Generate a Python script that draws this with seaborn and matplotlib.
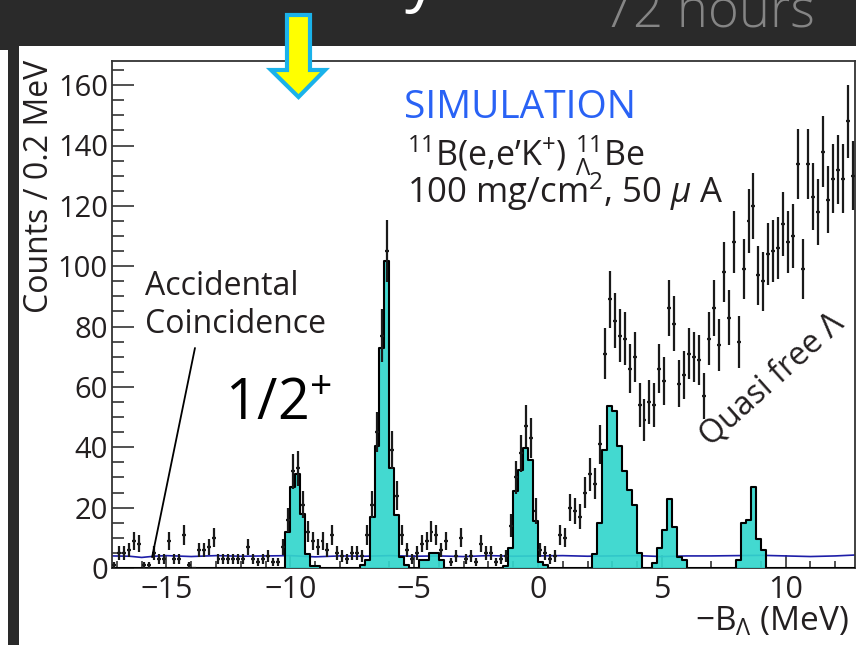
import numpy as np
import pandas as pd
import matplotlib
matplotlib.use("Agg")
import matplotlib.pyplot as plt
import seaborn as sns
from matplotlib.patches import Rectangle, Polygon
from matplotlib.ticker import MultipleLocator

# ---------------- data ----------------
x_range = (-17.2, 12.8)          # MeV, axis range
bin_width = 0.2                  # MeV per bin
n_bins = 150

# measured spectrum (counts per 0.2 MeV), bins from -17.1 to 12.7 (centers)
data_left = [1, 5, 5, 6, 9, 8, 1, 1, 5, 3, 3, 9, 3, 3, 11, 1, 0, 6, 6, 7,
             10, 3, 3, 3, 3, 3, 3, 7, 3, 2, 3, 4, 2, 2, 7]
data_peak1 = [16, 32, 33, 21, 12, 9, 7, 9, 6, 11, 5, 4, 3, 5, 5]
data_peak2 = [4, 11, 21, 45, 77, 105]
data_mid = [39, 24, 11, 6, 3, 5, 8, 9, 12, 11, 6, 9, 2, 4, 10, 3, 4, 2, 8, 5,
            5, 2, 3, 4]
data_peak3 = [14, 30, 38, 47, 43, 19]
data_rise = [6, 5, 3, 4, 11, 10, 20, 19, 17, 25, 31, 28, 41, 71, 89]
data_qf1 = [82, 77, 76, 66, 70, 54, 49, 55, 54, 66, 62, 86, 81, 61, 64, 71, 70]
data_qf2 = [69, 57, 76, 86, 74, 98, 83, 108, 75, 99, 115, 120, 97, 95, 104,
            105, 106, 114, 108, 110, 134, 99, 134, 123, 118, 138, 122, 129,
            132, 129, 148, 130]

# simulated hypernuclear peaks (cyan histogram): first bin center + counts
peak_a_start, peak_a = -10.1, [12, 27, 31, 18, 4.6, 0.7, 0.7]
peak_b_start, peak_b = -7.1, [1, 2.6, 16.8, 40.4, 72.8, 101.7, 33, 17.6, 3.5, 1]
peak_c_start, peak_c = -4.7, [2.6, 2.6, 4.9, 4.9, 2.6]
peak_d_start, peak_d = -1.3, [0.7, 6.5, 25.5, 32.6, 39.7, 35.7, 15.7, 2, 1]
peak_e_start, peak_e = 2.3, [4.6, 14.8, 39, 53.7, 52, 40.3, 32, 26, 21, 5]
peak_f_start, peak_f = 4.7, [1.5, 6.5, 12.7, 22.8, 13.6, 3.8, 2.7]
peak_g_start, peak_g = 8.1, [2.6, 14.8, 16, 26.7, 9.5, 5.8]

# accidental coincidence estimate (blue line)
bg_x = [-17.2, -16.5, -16, -15.5, -15, -14, -13, -12, -11, -10, -9, -8, -7,
        -6, -5, -4, -3, -2, -1, 0, 1, 2, 3, 4, 5, 6, 7, 8, 9, 10, 11, 12, 12.8]
bg_y = [4.0, 3.9, 3.5, 3.9, 4.1, 3.8, 4.1, 3.9, 4.0, 4.1, 3.7, 4.0, 3.9,
        4.1, 3.9, 4.0, 3.8, 4.1, 3.9, 4.0, 4.1, 3.9, 4.0, 4.1, 3.8, 4.0,
        4.0, 4.1, 4.2, 4.0, 3.8, 4.0, 4.3]

x_major = [-15, -10, -5, 0, 5, 10]
y_major = [0, 20, 40, 60, 80, 100, 120, 140, 160]

# ---------------- build tables ----------------
edges = [round(x_range[0] + bin_width * k, 3) for k in range(n_bins + 1)]
centers = np.round(np.array(edges[:-1]) + bin_width / 2, 3)
data_counts = np.array(data_left + data_peak1 + data_peak2 + data_mid +
                       data_peak3 + data_rise + data_qf1 + data_qf2, float)
signal = np.zeros(n_bins)
for start, vals in [(peak_a_start, peak_a), (peak_b_start, peak_b),
                    (peak_c_start, peak_c), (peak_d_start, peak_d),
                    (peak_e_start, peak_e), (peak_f_start, peak_f),
                    (peak_g_start, peak_g)]:
    i0 = int(round((start - centers[0]) / bin_width))
    signal[i0:i0 + len(vals)] = vals
df_sig = pd.DataFrame({"x": centers, "w": signal})

# ---------------- style ----------------
sns.set_theme(style="white")
plt.rcParams["font.family"] = ["Open Sans", "DejaVu Sans"]
plt.rcParams["mathtext.fontset"] = "custom"
plt.rcParams["mathtext.rm"] = "Open Sans"
plt.rcParams["mathtext.it"] = "Open Sans:italic"
plt.rcParams["mathtext.bf"] = "Open Sans:bold"
plt.rcParams["axes.unicode_minus"] = True

W, H = 856, 645
def fp(x, y):
    return x / W, 1 - y / H

dark_txt = "#231f20"
fig = plt.figure(figsize=(W / 100, H / 100), dpi=100, facecolor="#2a2a2a")
fig.add_artist(Rectangle((19 / W, 0), 1 - 19 / W, (H - 46) / H,
                         transform=fig.transFigure, facecolor="white",
                         edgecolor="none", zorder=-10))
fig.add_artist(Rectangle((0, 0), 8 / W, (H - 50) / H,
                         transform=fig.transFigure, facecolor="white",
                         edgecolor="none", zorder=-10))

ax = fig.add_axes([112 / W, (H - 568) / H, (855 - 112) / W, (568 - 61) / H])
ax.set_facecolor("white")

# background line
sns.lineplot(x=bg_x, y=bg_y, color="#1e1ea8", linewidth=1.2, ax=ax, zorder=2)
# simulated peaks
sns.histplot(data=df_sig, x="x", weights="w", bins=edges, element="step",
             fill=True, color="#33d6cc", alpha=0.92, linewidth=0, ax=ax,
             zorder=3)
sns.histplot(data=df_sig, x="x", weights="w", bins=edges, element="step",
             fill=False, color="black", linewidth=1.5, ax=ax, zorder=4)
# data points
ax.errorbar(centers, data_counts, yerr=np.sqrt(data_counts), xerr=0.08,
            fmt="none", ecolor="#1a1a1a", elinewidth=1.6, capsize=0, zorder=5)

ax.set_xlim(*x_range)
ax.set_ylim(0, 168)
ax.set_xlabel("")
ax.set_ylabel("")
ax.set_xticks(x_major)
ax.set_yticks(y_major)
ax.xaxis.set_minor_locator(MultipleLocator(1))
ax.yaxis.set_minor_locator(MultipleLocator(5))
for s in ax.spines.values():
    s.set_visible(True)
    s.set_color("#333333")
    s.set_linewidth(1.3)
ax.tick_params(axis="both", which="both", direction="in", top=False,
               right=False, bottom=True, left=True, colors="#333333",
               labelcolor=dark_txt)
ax.tick_params(axis="y", which="major", length=15.8, width=1.2, labelsize=21, pad=3)
ax.tick_params(axis="y", which="minor", length=8.4, width=1.2)
ax.tick_params(axis="x", which="major", length=9.4, width=1.2, labelsize=22, pad=5)
ax.tick_params(axis="x", which="minor", length=4.7, width=1.2)

# axis titles
fig.text(*fp(40, 186), "Counts / 0.2 MeV", rotation=90, ha="center",
         va="center", fontsize=23, color=dark_txt)
fig.text(*fp(849, 631), "\u2212B$_{\\Lambda}$ (MeV)", ha="right",
         va="baseline", fontsize=24, color=dark_txt)

# annotations
fig.text(*fp(404, 118), "SIMULATION", ha="left", va="baseline",
         fontsize=28, color="#2962f5")
fig.text(*fp(407, 166), "$^{11}$B(e,e\u2019K$^{+}$) ${}^{11}_{\\Lambda}$Be",
         ha="left", va="baseline", fontsize=24.5, color=dark_txt)
fig.text(*fp(407, 203), "100 mg/cm$^{2}$, 50 $\\mu$ A",
         ha="left", va="baseline", fontsize=25, color=dark_txt)
fig.text(*fp(145, 295), "Accidental", ha="left", va="baseline",
         fontsize=23, color=dark_txt)
fig.text(*fp(145, 333), "Coincidence", ha="left", va="baseline",
         fontsize=23, color=dark_txt)
fig.text(*fp(225, 420), "1/2$^{+}$", ha="left", va="baseline",
         fontsize=40, color="black")
fig.text(*fp(772, 380), "Quasi free \u039b", ha="center", va="center",
         rotation=42, rotation_mode="anchor", fontsize=23, color=dark_txt)

# leader line for accidental coincidence
ax.plot([-13.85, -15.58], [72.9, 3.6], color="black", linewidth=1.3,
        zorder=6, clip_on=False)

# yellow arrow
arrow_px = [(287, 15), (310, 15), (310, 70), (325, 70), (298.5, 97),
            (271, 70), (287, 70)]
fig.add_artist(Polygon([fp(x, y) for x, y in arrow_px], closed=True,
                       transform=fig.transFigure, facecolor="#ffff00",
                       edgecolor="#1ab2ea", linewidth=3, zorder=20))

# header fragments of the slide
fig.text(*fp(603, 27), "72 hours", ha="left", va="baseline", fontsize=38,
         color="#858585", fontweight="light")
fig.text(*fp(405, -1), "y", ha="left", va="baseline", fontsize=46,
         color="white")

fig.savefig("out.png", dpi=100, facecolor=fig.get_facecolor())
